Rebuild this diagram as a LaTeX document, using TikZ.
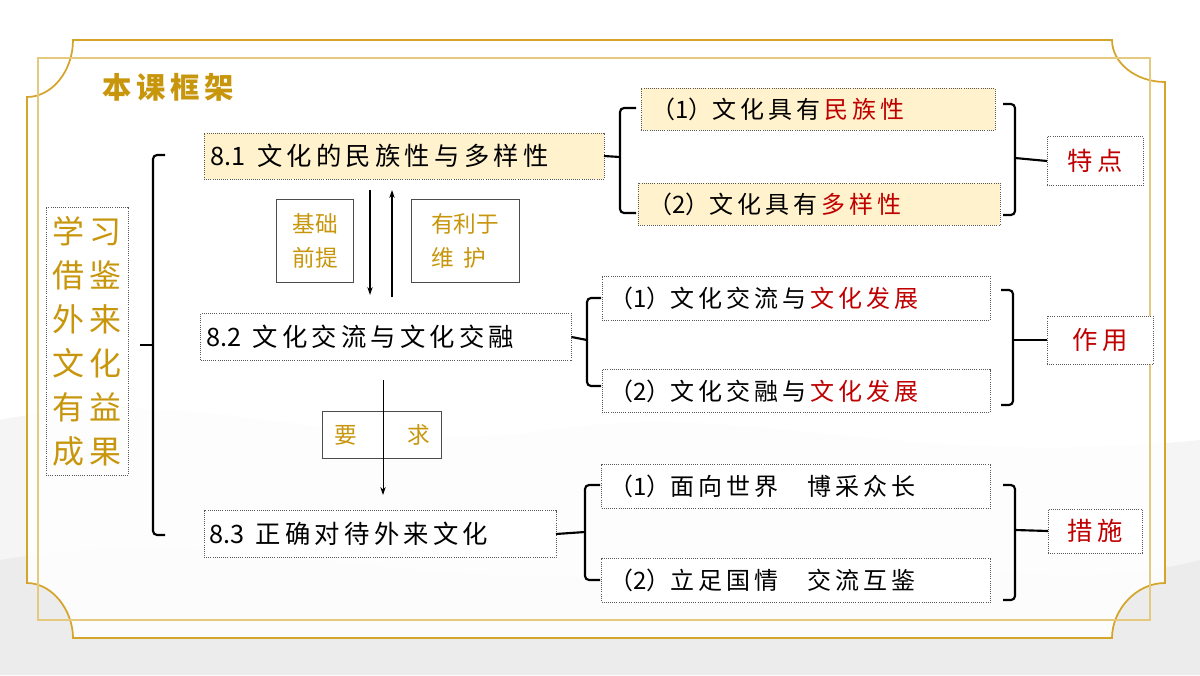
\documentclass[tikz,border=0pt]{standalone}
\usepackage{fontspec}
\setmainfont{Noto Sans CJK SC}
\usetikzlibrary{arrows.meta}
\definecolor{gold}{HTML}{C8960C}
\definecolor{frame}{HTML}{D4A52A}
\definecolor{redt}{HTML}{C00000}
\definecolor{fillY}{HTML}{FFF2CC}
\begin{document}
\begin{tikzpicture}[x=0.75pt,y=-0.75pt,
  bx/.style={draw=gray!70!black,densely dotted,line width=0.6pt,inner sep=0pt,outer sep=0pt},
  sbx/.style={draw=gray!60!black,line width=0.6pt,inner sep=0pt,outer sep=0pt},
  br/.style={line width=1.6pt,rounded corners=3pt},
  ar/.style={-{Stealth[length=6pt,width=4pt]},line width=0.9pt}]
\useasboundingbox (0,0) rectangle (1200,675);
\fill[white] (0,0) rectangle (1200,675);
% mountain wash
\fill[gray!8] (0,420) .. controls (200,380) and (350,460) .. (550,430) .. controls (750,400) and (900,470) .. (1200,440) -- (1200,675) -- (0,675) -- cycle;
\fill[gray!15] (0,560) .. controls (250,520) and (400,600) .. (700,570) .. controls (900,545) and (1050,600) .. (1200,560) -- (1200,675) -- (0,675) -- cycle;
% frame
\draw[frame,line width=1.3pt,fill=white,fill opacity=0.85]
 (73,40) -- (1112,40) .. controls (1112,63) and (1136,82) .. (1165,82) -- (1165,583)
 .. controls (1136,583) and (1112,610) .. (1112,638) -- (73,638)
 .. controls (73,610) and (52,583) .. (27,583) -- (27,97)
 .. controls (52,97) and (73,71) .. (73,40) -- cycle;
\draw[frame!60,line width=0.8pt] (38,58) rectangle (1150,620);
% title
\node[text=gold,font=\bfseries\fontsize{22}{22}\selectfont] (title) at (168,87) {本\,课\,框\,架};
% left box
\node[bx,minimum width={82*0.75pt},minimum height={268*0.75pt},text=gold,font=\fontsize{24}{33}\selectfont,align=center] (L) at (87,341) {学\,习\\借\,鉴\\外\,来\\文\,化\\有\,益\\成\,果};
% main boxes
\node[bx,fill=fillY,minimum width={400*0.75pt},minimum height={46*0.75pt},font=\fontsize{19}{19}\selectfont] (A) at (404,156) {\makebox[290pt][l]{8.1\ \ 文\,化\,的\,民\,族\,性\,与\,多\,样\,性}};
\node[bx,fill=white,minimum width={371*0.75pt},minimum height={47*0.75pt},font=\fontsize{19}{19}\selectfont] (B) at (386,337) {\makebox[270pt][l]{8.2\ \ 文\,化\,交\,流\,与\,文\,化\,交\,融}};
\node[bx,fill=white,minimum width={352*0.75pt},minimum height={47*0.75pt},font=\fontsize{19}{19}\selectfont] (C) at (380,534) {\makebox[256pt][l]{8.3\ \ 正\,确\,对\,待\,外\,来\,文\,化}};
% left bracket
\draw[br] (165,155) -- (153,155) -- (153,535) -- (165,535);
\draw[line width=1.6pt] (153,345) -- (140,345);
% arrows and labels
\coordinate (d1) at (370,190); \coordinate (d2) at (370,295);
\coordinate (u1) at (392,297); \coordinate (u2) at (392,190);
\draw[ar] (d1) -- (d2);
\draw[ar] (u1) -- (u2);
\node[sbx,fill=white,minimum width={77*0.75pt},minimum height={83*0.75pt},text=gold,font=\fontsize{17}{25}\selectfont,align=center] (jc) at (315,241) {基础\\前提};
\node[sbx,fill=white,minimum width={108*0.75pt},minimum height={83*0.75pt},text=gold,font=\fontsize{17}{25}\selectfont,align=left] (yl) at (465,241) {有利于\\维\ \ 护};
\node[sbx,fill=white,minimum width={119*0.75pt},minimum height={47*0.75pt},text=gold,font=\fontsize{17}{17}\selectfont] (yq) at (382,435) {要\hspace{38pt}求};
\coordinate (r1) at (383,380); \coordinate (r2) at (383,495);
\draw[ar,line width=0.7pt] (r1) -- (r2);
% group 1
\node[bx,fill=fillY,minimum width={354*0.75pt},minimum height={42*0.75pt},font=\fontsize{18}{18}\selectfont] (a1) at (818,109) {\makebox[250pt][l]{（1）文\,化\,具\,有\,\textcolor{redt}{民\,族\,性}}};
\node[bx,fill=fillY,minimum width={362*0.75pt},minimum height={42*0.75pt},font=\fontsize{18}{18}\selectfont] (a2) at (819,204) {\makebox[256pt][l]{（2）文\,化\,具\,有\,\textcolor{redt}{多\,样\,性}}};
\draw[br] (636,108) -- (620,108) -- (620,213) -- (636,213);
\draw[line width=1.6pt] (620,157) -- (A.east);
\draw[br] (1003,104) -- (1015,104) -- (1015,215) -- (1003,215);
\node[bx,fill=white,minimum width={96*0.75pt},minimum height={49*0.75pt},text=redt,font=\fontsize{19}{19}\selectfont] (t1) at (1095,161) {特\,点};
\draw[line width=1.6pt] (1015,158) -- (t1.west);
% group 2
\node[bx,fill=white,minimum width={388*0.75pt},minimum height={44*0.75pt},font=\fontsize{18}{18}\selectfont] (b1) at (796,298) {\makebox[280pt][l]{（1）文\,化\,交\,流\,与\,\textcolor{redt}{文\,化\,发\,展}}};
\node[bx,fill=white,minimum width={388*0.75pt},minimum height={43*0.75pt},font=\fontsize{18}{18}\selectfont] (b2) at (796,391) {\makebox[280pt][l]{（2）文\,化\,交\,融\,与\,\textcolor{redt}{文\,化\,发\,展}}};
\draw[br] (601,298) -- (587,298) -- (587,386) -- (601,386);
\draw[line width=1.6pt] (587,340) -- (B.east);
\draw[br] (1001,290) -- (1013,290) -- (1013,405) -- (1001,405);
\node[bx,fill=white,minimum width={106*0.75pt},minimum height={48*0.75pt},text=redt,font=\fontsize{19}{19}\selectfont] (t2) at (1100,340) {作\,用};
\draw[line width=1.6pt] (1013,340) -- (t2.west);
% group 3
\node[bx,fill=white,minimum width={389*0.75pt},minimum height={44*0.75pt},font=\fontsize{18}{18}\selectfont] (c1) at (796,486) {\makebox[280pt][l]{（1）面\,向\,世\,界\hspace{1.2em}博\,采\,众\,长}};
\node[bx,fill=white,minimum width={389*0.75pt},minimum height={44*0.75pt},font=\fontsize{18}{18}\selectfont] (c2) at (796,580) {\makebox[280pt][l]{（2）立\,足\,国\,情\hspace{1.2em}交\,流\,互\,鉴}};
\draw[br] (600,485) -- (585,485) -- (585,580) -- (600,580);
\draw[line width=1.6pt] (585,532) -- (C.east);
\draw[br] (1003,485) -- (1015,485) -- (1015,600) -- (1003,600);
\node[bx,fill=white,minimum width={94*0.75pt},minimum height={44*0.75pt},text=redt,font=\fontsize{19}{19}\selectfont] (t3) at (1095,531) {措\,施};
\draw[line width=1.6pt] (1015,530) -- (t3.west);
\end{tikzpicture}
\end{document}
